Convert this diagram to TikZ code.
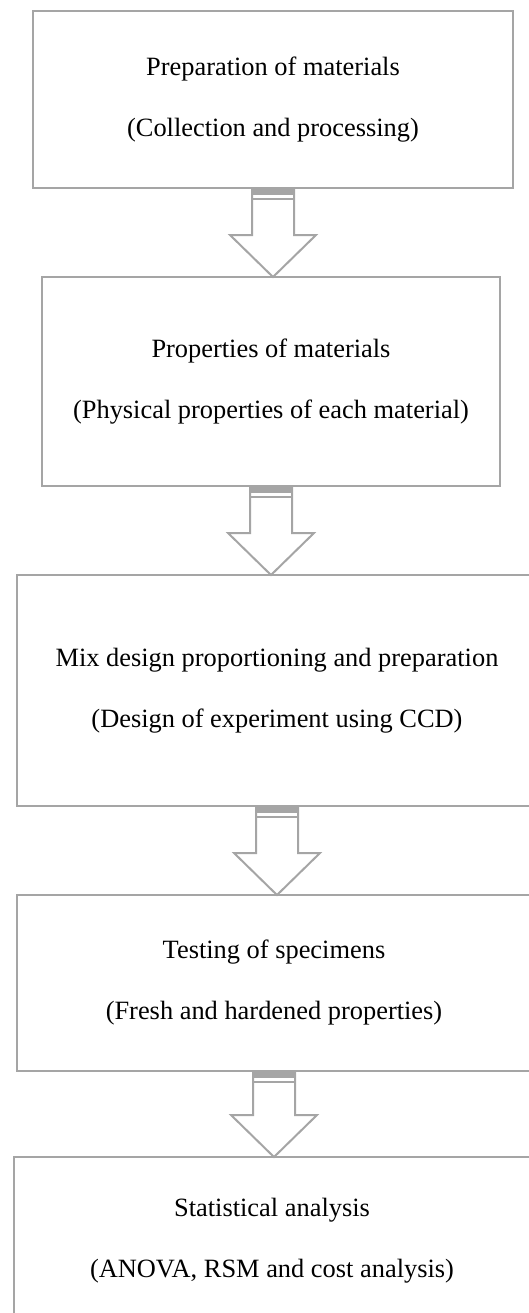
\documentclass[tikz,border=0pt]{standalone}
\usepackage{fontspec}
\setmainfont{Liberation Serif}
\usetikzlibrary{calc}

\definecolor{boxgray}{HTML}{A5A5A5}

\tikzset{
    stage/.style={draw=boxgray, line width=1pt, rectangle, inner sep=0pt,
        outer sep=0pt, align=center,
        font=\fontsize{13.2pt}{30.5pt}\selectfont},
    arrowline/.style={draw=boxgray, fill=white, line width=1pt,
        line join=miter}
}

\begin{document}
\begin{tikzpicture}[x=0.5pt,y=-0.5pt]
            \useasboundingbox (0,0) rectangle (529,1313);

            \node[stage, minimum width=240pt, minimum height=88.5pt]
                (prep) at (273,99.5)
                {Preparation of materials\\(Collection and processing)};
            \node[stage, minimum width=229pt, minimum height=104.5pt]
                (prop) at (271,381.5)
                {Properties of materials\\(Physical properties of each material)};
            \node[stage, minimum width=260pt, minimum height=115.5pt]
                (mix) at (277,690.5)
                {Mix design proportioning and preparation\\(Design of experiment using CCD)};
            \node[stage, minimum width=257pt, minimum height=88pt]
                (test) at (274,983)
                {Testing of specimens\\(Fresh and hardened properties)};
            \node[stage, minimum width=258pt, minimum height=84pt]
                (stat) at (272,1241)
                {Statistical analysis\\(ANOVA, RSM and cost analysis)};

            % block arrows between the stages
            \foreach \a/\b in {prep/prop, prop/mix, mix/test, test/stat} {
                \coordinate (tip) at (\a.south |- \b.north);
                \path[arrowline]
                    ($(\a.south)+(-21,0)$) -- ($(tip)+(-21,-42)$)
                    -- ($(tip)+(-43,-42)$) -- (tip)
                    -- ($(tip)+(43,-42)$) -- ($(tip)+(21,-42)$)
                    -- ($(\a.south)+(21,0)$);
                \fill[boxgray] ($(\a.south)+(-22,-1)$)
                    rectangle ($(\a.south)+(22,7)$);
                \draw[boxgray, line width=1.2pt]
                    ($(\a.south)+(-21,11)$) -- ($(\a.south)+(21,11)$);
            }
        \end{tikzpicture}
\end{document}
